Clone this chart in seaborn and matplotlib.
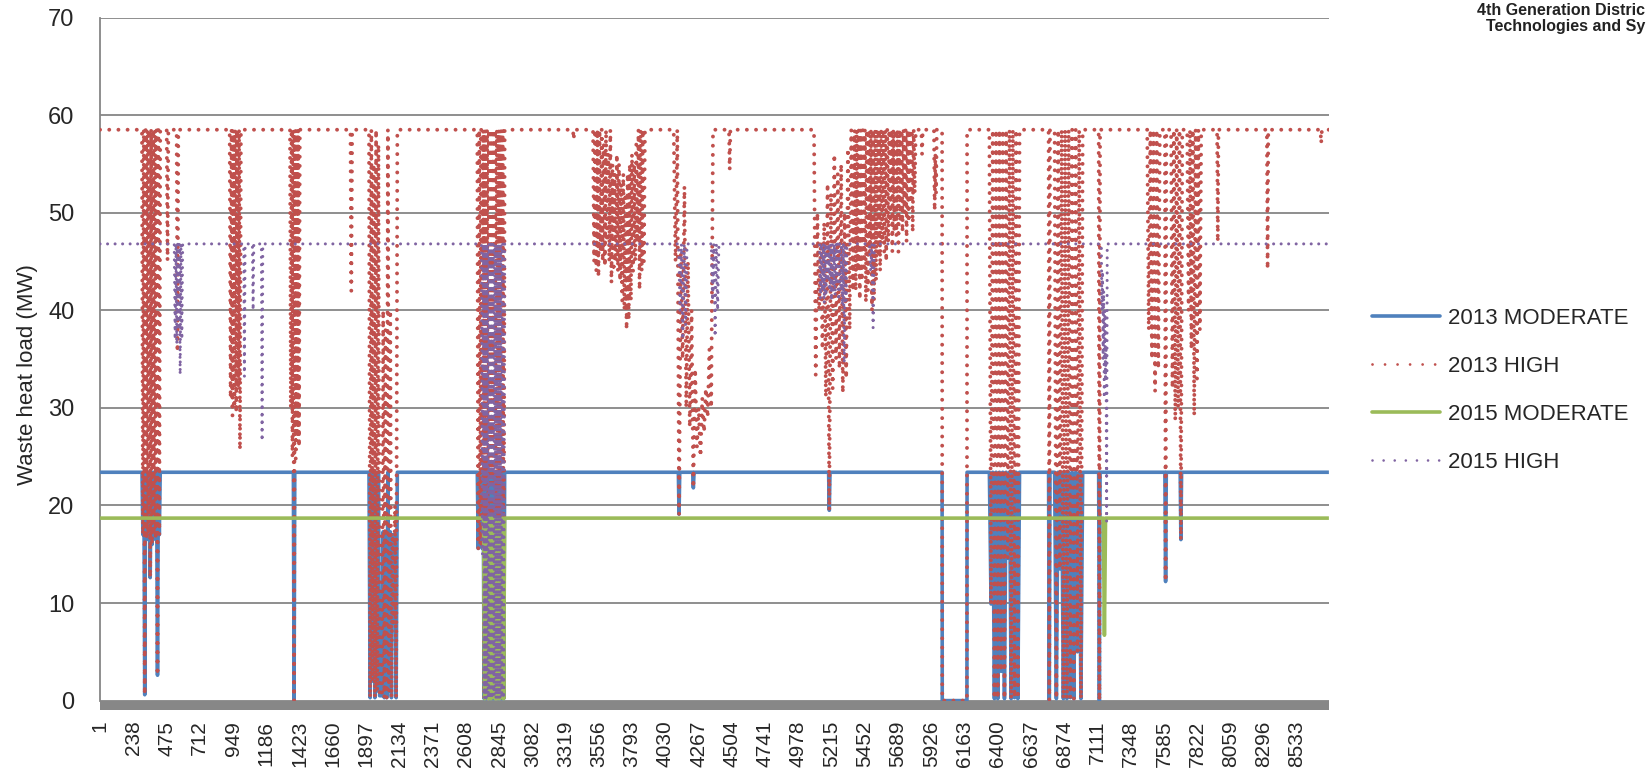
import numpy as np
import pandas as pd
import matplotlib
matplotlib.use('Agg')
import matplotlib.pyplot as plt
from matplotlib.patches import Rectangle
from matplotlib.lines import Line2D
import seaborn as sns

# hourly waste heat load, read off the figure as dips from the constant base load
# each dip: (start hour, end hour, low values, intermediate highs or None)
base_13mod, base_13high, base_15mod, base_15high = 23.4, 58.5, 18.7, 46.8

lows_a = [17, 0.6, 16.5, 17, 12.6, 16, 17, 16.5, 2.6, 17]
lows_b = [0.3, 2, 0.3, 1, 0.5, 0.5, 0.3, 0.3, 1, 0.3, 8, 0.3]
lows_c = [15.6, 16, 15.6, 0.2, 0.2, 0.5, 0.2, 0.2, 0.2, 0.3, 0.2, 0.2, 0.2, 0.2]
lows_d = [9.9, 0.2, 0.2, 3, 0.2, 14.6, 0.2, 0.3, 0.2]
lows_e = [0.2, 13.5, 0.2, 0.2, 0.3, 0.2, 5, 0.2]

dips_13high = [
    (300, 430, lows_a, None),
    (476, 488, [45.1], None),
    (547, 559, [35.7], None),
    (925, 1005, [31, 29.2, 30, 29.5, 32, 25.7], None),
    (1355, 1425, [30, 25, 0, 24.8, 27, 26], None),
    (1786, 1798, [42], None),
    (1918, 2120, lows_b, [58.5, 55, 58.5, 57, 0.5, 40, 38, 58.5, 40, 17, 20]),
    (2690, 2885, lows_c, None),
    (3372, 3382, [57.5], None),
    (3515, 3885, [45, 44, 43.4, 46, 45, 44.5, 47, 45, 42.8, 44, 45, 44, 43, 41, 40, 38,
                  39, 41, 44, 45, 47, 42.1, 44, 45],
     [58.5, 58.5, 58.5, 58.5, 57, 58.5, 56, 58.5, 55, 54, 56, 55, 53, 54, 52, 54, 55, 56,
      55, 57, 58.5, 58.5, 58.5]),
    (4090, 4370, [45, 19.1, 35, 30, 28, 21.8, 26, 25, 27.5, 29, 30],
     [58.5, 46, 52.7, 45, 40, 34, 30, 31, 32, 36]),
    (4484, 4494, [54.4], None),
    (5090, 5380, [33.4, 40, 36, 31.1, 19.5, 32, 35, 34, 31.5, 33, 38, 42],
     [50, 47, 49, 53, 52, 56, 54, 55, 50, 56.6, 58.5]),
    (5380, 5815, [42, 44, 41.1, 43, 44, 40.8, 42, 46, 40.0, 41, 43, 45.5, 44, 47, 46, 45,
                  47, 49, 46, 48, 47.6, 46, 49, 48, 50, 47, 49, 51, 48, 52], None),
    (5855, 5865, [56], None),
    (5945, 5965, [50.2, 52], [56]),
    (6340, 6555, lows_d, None),
    (6762, 6772, [0], None),
    (6805, 7005, lows_e, None),
    (7119, 7129, [0], None),
    (7465, 7555, [38, 35, 31.7, 34], None),
    (7591, 7601, [12.2], None),
    (7635, 7715, [32, 28.7, 30, 16.5], None),
    (7750, 7850, [40, 36, 29.2, 33, 38], None),
    (7963, 7973, [47], None),
    (8318, 8328, [44.2], None),
    (8700, 8710, [57.1], None),
]
flats_13high = [(6003, 6181, 0)]

dips_13mod = [
    (300, 430, lows_a, None),
    (1379, 1389, [0], None),
    (1918, 2120, lows_b, [23.4, 23.4, 23.4, 23.4, 0.5, 17.3, 17, 23.4, 17.3, 17, 17]),
    (2690, 2885, lows_c, None),
    (4123, 4133, [19.1], None),
    (4225, 4235, [21.8], None),
    (5194, 5204, [19.5], None),
    (6340, 6555, lows_d, None),
    (6762, 6772, [0], None),
    (6805, 7005, lows_e, None),
    (7119, 7129, [0], None),
    (7591, 7601, [12.2], None),
    (7700, 7710, [16.5], None),
]
flats_13mod = [(6003, 6181, 0)]

dips_15mod = [
    (2735, 2885, [0.2, 0.3, 0.2, 0.2, 0.5, 0.2, 0.2, 0.2, 0.3, 0.2], None),
    (7152, 7168, [6.7], None),
]

dips_15high = [
    (530, 590, [37, 36.5, 38, 33.4, 37], None),
    (1025, 1035, [33.2], None),
    (1087, 1097, [40.0], None),
    (1151, 1161, [26.6], None),
    (2720, 2885, [15, 0.2, 0.2, 0.3, 0.2, 0.2, 0.5, 0.2, 0.2, 0.2, 0.3, 0.2], None),
    (4125, 4185, [40, 37, 38.5], None),
    (4358, 4412, [41, 37.3, 40], None),
    (5130, 5325, [41.2, 42, 40.7, 41.5, 43, 42, 41, 42, 41.5, 43, 41, 42, 40.5, 34.6, 41], None),
    (5485, 5520, [44, 38.2], None),
    (7138, 7180, [40, 35, 31, 33, 18.4], [44, 42, 40, 36]),
]

tick_hours = list(range(1, 8761, 237))


def build(base, dips, flats=()):
    pts = [(1, base), (8760, base)]
    for start, end, lows, highs in dips:
        n = len(lows)
        p = (end - start) / n
        hi = highs if highs else [base] * (n - 1)
        pts.append((start, base))
        for i, lo in enumerate(lows):
            pts.append((start + (i + 0.5) * p, lo))
            if i < n - 1:
                pts.append((start + (i + 1) * p, hi[i]))
        pts.append((end, base))
    for start, end, val in flats:
        pts += [(start, base), (start + 1, val), (end - 1, val), (end, base)]
    pts.sort()
    return pd.DataFrame(pts, columns=['hour', 'load'])


blue, red, green, purple = '#4F81BD', '#C0504D', '#9BBB59', '#8064A2'
series = [
    ('2013 MODERATE', build(base_13mod, dips_13mod, flats_13mod), blue, '-', 2.6),
    ('2013 HIGH', build(base_13high, dips_13high, flats_13high), red, (0, (0.01, 2.35)), 2.8),
    ('2015 MODERATE', build(base_15mod, dips_15mod), green, '-', 2.6),
    ('2015 HIGH', build(base_15high, dips_15high), purple, (0, (0.01, 2.45)), 2.2),
]

sns.set_theme(style='white')
plt.rcParams['font.family'] = ['Liberation Sans', 'DejaVu Sans']

fig = plt.figure(figsize=(16.47, 7.71), dpi=100)
ax = fig.add_axes([0.0607, 0.0913, 0.7462, 0.886])

for k, (name, df, col, ls, lw) in enumerate(series):
    sns.lineplot(data=df, x='hour', y='load', sort=False, estimator=None, ax=ax,
                 color=col, linestyle=ls, lw=lw, zorder=3 + k)
    ax.lines[-1].set_dash_capstyle('round')
    ax.lines[-1].set_solid_capstyle('butt')

ax.set_xlim(0.5, 8760.5)
ax.set_ylim(0, 70)
ax.set_yticks(range(0, 71, 10))
ax.set_xticks(tick_hours)
ax.set_xticklabels([str(h) for h in tick_hours], rotation=90, fontsize=15)
ax.tick_params(axis='x', length=0, pad=14.5)
ax.tick_params(axis='y', length=5.8, width=1.2, color='#868686', pad=12.5, labelsize=17)
ax.yaxis.grid(True, color='#868686', lw=1.3)
ax.set_axisbelow(True)
for s in ['top', 'right', 'bottom']:
    ax.spines[s].set_visible(False)
ax.spines['left'].set_color('#868686')
ax.spines['left'].set_linewidth(1.3)
ax.add_patch(Rectangle((0, -9.5 / 683), 1, 9.5 / 683, transform=ax.transAxes,
                       facecolor='#878787', edgecolor='none', clip_on=False, zorder=2))

ax.set_xlabel('')
ax.set_ylabel('Waste heat load (MW)', fontsize=16)
ax.yaxis.set_label_coords(-0.0505, 0.477)

handles = [
    Line2D([], [], color=blue, lw=2.6),
    Line2D([], [], color=red, lw=2.0, linestyle=(0, (0.01, 4.5)), dash_capstyle='round'),
    Line2D([], [], color=green, lw=2.6),
    Line2D([], [], color=purple, lw=1.9, linestyle=(0, (0.01, 4.2)), dash_capstyle='round'),
]
ax.legend(handles, [s[0] for s in series], loc='upper left', bbox_to_anchor=(0.833, 0.601),
          bbox_transform=fig.transFigure, frameon=False, fontsize=16, handlelength=3.06,
          handletextpad=0.36, labelspacing=1.22, borderpad=0, borderaxespad=0)

# journal running head, cut by the page edge in the source
fig.text(1645 / 1647, 1 - 15 / 771, '4th Generation Distric', fontsize=11.5,
         fontweight='bold', color='#222222', ha='right', va='baseline')
fig.text(1645 / 1647, 1 - 31 / 771, 'Technologies and Sy', fontsize=11.5,
         fontweight='bold', color='#222222', ha='right', va='baseline')

fig.savefig('out.png', dpi=100)
